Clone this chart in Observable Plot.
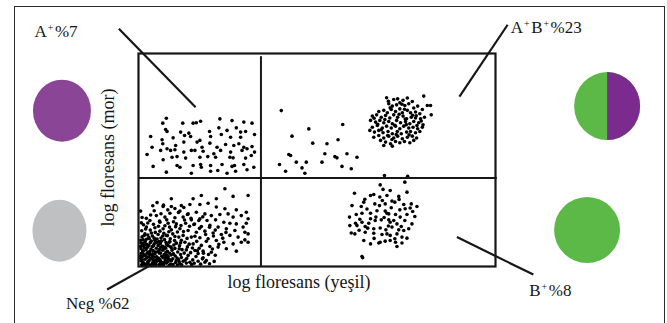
<!DOCTYPE html>
<html>
<head>
<meta charset="utf-8">
<script src="https://cdn.jsdelivr.net/npm/d3@7"></script>
<script src="https://cdn.jsdelivr.net/npm/@observablehq/plot@0.6"></script>
<style>
  html, body { margin: 0; padding: 0; background: #fff; overflow: hidden; }
  #wrap { position: relative; width: 667px; height: 323px; }
  #border { position: absolute; left: 14px; top: 6px; width: 649px; height: 400px;
            border: 1.4px solid #2b2b2b; border-bottom: none; pointer-events: none; }
  svg { display: block; }
</style>
</head>
<body>
<div id="wrap"><div id="border"></div></div>
<script>
// Two-colour flow cytometry: green (x) vs purple (y) log fluorescence, in channel units 0–100.

// Quadrant gates
const gateGreen = 34.3;
const gatePurple = 41.5;

// Events per population, as [green, purple]
const aPos = [
  [7.8,69.6],[6.8,67.3],[12.4,67.3],[15.3,67.3],[16.2,67.5],[17.4,68.2],[22.8,69.3],[26.2,68.5],[29.5,67.8],[31.8,67.3],
  [7.6,64.3],[8.0,63.4],[11.8,63.1],[14.1,62.6],[19.9,63.4],[22.5,65.1],[24.8,63.9],[27.4,65.1],[28.6,63.1],[30.0,63.4],
  [3.4,61.0],[6.6,59.5],[9.7,60.4],[12.9,61.5],[14.6,61.0],[17.2,59.2],[20.2,61.0],[23.2,62.0],[25.8,60.7],[28.6,60.7],[32.5,62.0],
  [3.8,56.0],[6.8,57.6],[8.0,55.3],[10.4,56.8],[12.7,58.4],[16.4,58.4],[17.8,56.0],[20.0,57.9],[22.0,56.0],[24.4,57.3],[26.7,56.8],[28.1,57.6],[29.5,56.0],[31.8,56.3],
  [6.2,54.5],[9.0,54.5],[10.2,54.8],[12.7,53.7],[14.8,54.5],[15.8,54.5],[18.1,54.1],[21.1,52.9],[23.0,54.5],[25.8,53.7],[29.0,54.5],[30.4,55.3],[32.5,53.7],
  [2.4,52.6],[6.9,50.1],[9.4,51.3],[10.8,51.6],[13.2,50.9],[17.2,51.3],[19.4,51.6],[21.6,51.3],[25.6,51.3],[26.5,51.0],[30.0,50.9],[31.6,52.1],
  [4.1,47.0],[10.8,47.4],[11.6,46.6],[15.3,47.4],[17.4,47.9],[17.6,46.6],[20.2,47.4],[23.4,47.9],[26.2,47.0],[26.9,47.4],[29.5,47.9],[32.3,46.6],
  [7.8,44.3],[14.8,43.8],[20.2,44.7],[22.2,45.1],[24.8,43.8],[27.2,44.7],[30.4,45.4]
];

const abPos = [
  [40.0,73.2],[43.0,61.2],[47.7,64.6],[57.2,66.7],[55.9,59.5],[48.8,57.9],[52.8,57.6],[42.1,52.6],[42.6,52.1],[52.2,52.9],
  [55.0,51.6],[55.6,51.0],[58.4,52.9],[61.2,51.3],[44.2,49.0],[47.0,49.0],[39.5,47.9],[45.8,46.3],[41.2,44.7],[46.6,43.8],
  [57.0,47.0],[59.6,45.9],[51.4,49.0],[68.9,42.7],[75.4,42.4],
  [69.5,79.2],[71.5,78.4],[72.6,78.7],[74.1,78.0],[75.3,79.1],[76.7,77.5],[79.9,80.0],[80.9,75.6],[81.8,75.6],[82.0,71.2],
  [70.1,76.4],[71.1,75.3],[72.3,75.9],[73.2,76.9],[74.6,75.6],[75.7,76.4],[77.1,74.4],[78.2,75.3],[79.5,73.7],
  [67.3,72.8],[68.7,73.3],[69.7,72.2],[70.8,73.7],[72.0,72.8],[73.2,74.0],[73.9,72.2],[75.3,73.3],[76.2,72.2],[77.6,72.5],[78.8,71.7],
  [65.5,70.6],[66.7,71.2],[68.0,70.1],[69.2,70.9],[70.4,69.7],[71.5,71.2],[72.6,70.1],[74.1,70.6],[75.1,69.4],[76.4,70.1],[77.6,69.7],[79.0,69.4],[80.1,70.1],
  [65.0,68.6],[66.4,67.8],[67.6,68.6],[68.7,67.5],[70.1,68.1],[71.1,67.0],[72.3,68.6],[73.4,67.5],[74.8,68.1],[76.0,67.0],[77.1,68.1],[78.5,67.5],[79.7,66.5],
  [65.5,65.4],[66.9,66.2],[68.3,65.0],[69.5,65.9],[70.8,65.0],[72.0,65.9],[73.2,64.7],[74.3,65.9],[75.7,65.0],[76.9,65.4],[78.2,64.7],[79.5,65.4],
  [64.8,63.9],[66.1,63.1],[67.3,63.9],[68.5,62.8],[69.9,63.4],[71.1,62.3],[72.5,63.4],[73.6,62.3],[75.1,63.1],[76.2,63.4],[77.6,62.8],[78.8,63.4],
  [65.9,60.7],[67.3,61.5],[68.7,60.3],[70.1,61.2],[71.5,60.3],[72.6,61.2],[73.9,60.0],[75.3,60.7],[76.7,61.2],[77.9,60.3],
  [67.8,59.2],[69.2,58.4],[70.6,57.6],[72.0,58.7],[73.2,58.1],[74.5,58.7],[76.0,58.1],[77.1,59.2],[71.1,56.5],[68.7,56.8],
  [69.0,69.0],[71.8,66.3],[73.0,71.5],[74.7,69.2],[70.5,74.5],[76.8,71.0],[67.0,66.8],[72.2,62.0],[75.8,61.8],[78.0,66.2],
  [69.8,61.5],[73.8,76.2],[66.0,69.6],[70.0,77.6],[74.5,73.8],[77.8,70.8],[71.0,59.6],[68.0,64.2],[79.2,68.3],[75.0,66.6]
];

const bPos = [
  [67.7,38.3],[74.6,39.6],[60.5,34.4],[65.0,33.3],[65.9,33.8],[67.6,32.6],[69.6,33.3],[70.5,35.7],[72.9,32.9],[75.2,34.9],
  [71.0,30.7],[69.1,29.4],[71.8,30.2],[59.8,28.6],[62.4,28.2],[63.1,30.2],[66.2,29.4],[67.5,28.6],[74.3,29.1],[76.4,29.4],
  [78.0,28.2],[76.1,27.5],[74.7,27.1],[61.0,24.4],[62.6,25.0],[65.0,25.0],[66.5,23.2],[69.1,26.0],[70.1,24.7],[72.0,24.4],
  [73.3,23.2],[75.2,24.4],[77.4,23.5],[71.5,21.6],[69.6,25.0],[59.1,23.2],[60.8,20.3],[62.6,20.8],[64.5,20.3],[65.0,22.4],
  [66.3,21.6],[68.0,21.9],[70.1,21.9],[70.5,20.8],[72.4,20.0],[74.6,21.6],[76.6,20.0],[73.6,18.8],[59.2,19.2],[61.2,19.2],
  [63.5,18.8],[65.9,17.7],[67.7,18.1],[69.3,17.2],[71.0,18.5],[72.9,17.2],[74.3,16.9],[75.7,17.7],[59.6,15.7],[60.6,15.3],
  [63.5,16.1],[65.9,15.6],[68.2,15.0],[69.6,15.3],[70.5,14.6],[72.4,15.3],[73.8,13.8],[75.2,13.3],[63.1,12.2],[65.0,10.6],
  [67.3,11.0],[69.1,11.9],[70.5,12.2],[72.0,11.4],[73.8,11.0],[72.4,9.4],[67.7,11.4],[62.6,4.7],[62.8,4.1],
  [64.0,27.0],[68.3,31.0],[70.8,27.6],[66.8,26.2],[62.0,22.2],[68.8,23.0],[73.2,26.6],[64.2,18.0],[70.0,19.0],[66.0,13.2],
  [61.8,17.0],[71.8,13.0],[68.5,36.2],[63.4,31.6],[76.8,25.8],[73.0,31.5]
];

const negative = [
  [24.2,36.5],[30.7,33.3],[26.5,32.9],[17.6,33.3],[15.3,31.8],[21.8,31.8],[9.2,31.8],[6.9,28.2],[9.2,28.2],[12.0,28.6],
  [14.4,29.1],[17.2,29.1],[19.5,29.7],[21.8,27.9],[24.2,27.1],[27.4,26.6],[30.2,25.5],[0.6,26.0],
  [8.8,25.0],[11.6,26.0],[13.9,24.7],[16.2,25.5],[18.6,24.7],[20.4,23.9],[22.8,24.4],[25.1,24.7],[26.5,23.2],[28.8,23.9],[30.7,22.4],
  [5.0,23.9],[7.4,23.2],[10.2,22.9],[12.5,23.2],[14.8,21.9],[17.2,22.4],[19.2,21.6],[21.6,21.9],[23.9,20.8],[25.6,20.3],[27.4,20.0],[30.2,20.3],[29.3,18.5],
  [3.2,21.6],[6.0,20.8],[8.3,20.3],[10.6,20.0],[13.2,20.3],[15.5,19.7],[17.6,18.8],[20.0,19.3],[22.3,18.5],[24.6,17.7],[27.0,16.9],[29.8,16.1],[30.7,15.3],
  [2.2,18.5],[4.6,18.2],[6.9,17.7],[9.2,17.2],[11.6,17.7],[13.9,16.9],[16.2,16.1],[18.6,16.6],[20.9,15.7],[23.2,15.0],[25.6,14.6],[27.9,13.8],[29.8,12.5],[30.7,11.4],
  [1.8,15.3],[3.6,15.7],[5.5,15.0],[7.8,14.6],[10.2,14.1],[12.5,14.6],[14.8,13.8],[17.2,13.5],[19.5,13.0],[21.8,12.2],[23.9,11.4],[26.5,10.6],[28.8,11.4],
  [1.3,12.5],[3.0,13.0],[4.6,12.2],[6.4,11.9],[8.6,11.4],[10.6,11.0],[13.0,11.4],[15.3,10.6],[17.6,9.9],[20.0,9.4],[22.3,9.1],[24.6,8.3],[27.4,7.2],
  [1.1,9.9],[2.4,10.3],[3.9,9.4],[5.5,9.9],[7.4,9.1],[9.2,8.8],[11.4,8.3],[13.4,7.8],[15.8,7.5],[18.1,7.2],[20.4,6.7],
  [1.3,7.2],[2.7,6.7],[4.1,7.5],[5.8,6.3],[7.7,6.7],[9.7,6.0],[11.8,5.6],[13.9,5.2],[16.1,4.7],[18.1,4.1],[19.0,2.8],
  [1.1,4.7],[2.4,4.1],[3.9,4.7],[5.2,3.6],[6.9,4.1],[8.8,3.1],[10.6,2.8],[12.5,2.5],[14.4,2.0],[16.7,2.5],
  [1.3,2.0],[2.7,1.6],[4.3,2.0],[6.0,1.3],[7.8,1.6],[9.7,0.9],[11.6,1.3],[13.4,1.6],
  [0.9,0.8],[2.0,1.1],[3.3,0.7],[4.9,1.0],[5.3,2.6],[7.0,0.8],[8.2,2.2],[9.0,1.2],[10.4,1.9],[12.1,0.8],[13.0,2.9],[14.9,0.9],[15.6,1.5],[17.4,1.1],
  [0.7,2.7],[1.8,3.4],[3.0,2.8],[4.0,3.3],[6.2,2.5],[7.5,3.0],[9.6,3.6],[11.2,3.3],[12.0,4.2],[13.5,3.7],[15.2,3.1],
  [1.5,5.6],[3.4,5.5],[4.6,5.9],[6.5,4.8],[7.2,5.6],[8.3,4.6],[9.1,5.4],[10.3,4.9],[11.0,6.8],[12.8,6.3],[14.6,6.5],[16.7,6.1],
  [0.8,6.2],[2.1,7.9],[3.5,8.2],[4.8,6.8],[5.9,8.0],[6.8,7.6],[8.1,7.1],[9.4,7.6],[10.2,8.5],[12.2,7.9],[13.7,9.2],[15.1,8.7],[17.0,8.6],
  [1.6,8.9],[2.9,9.9],[4.4,10.6],[5.1,11.3],[6.7,9.5],[7.9,10.4],[9.9,10.1],[11.5,9.7],[12.0,12.3],[14.2,10.5],[16.3,11.8],
  [0.7,11.0],[1.9,11.6],[3.6,12.0],[5.2,12.9],[6.3,13.4],[7.3,12.6],[8.9,13.0],[10.1,12.2],[11.3,13.8],[13.6,13.2],[15.8,14.2],
  [1.0,13.9],[2.6,14.8],[3.9,14.3],[4.7,16.0],[6.0,16.6],[7.1,15.6],[8.5,16.3],[9.6,15.3],[10.9,16.2],[12.6,16.4],
  [0.9,16.8],[2.0,17.6],[3.3,17.1],[5.6,18.9],[7.4,19.1],[8.7,18.5],[10.4,18.7],[11.9,19.2],[14.3,18.9],
  [1.4,19.6],[2.6,20.4],[4.2,19.8],[5.9,21.3],[7.9,21.9],[9.8,21.0],[12.9,21.8],
  [0.6,3.9],[2.3,0.6],[3.9,1.7],[5.8,0.7],[6.6,1.8],[1.2,1.5],[2.8,4.6],[4.3,4.4],[5.6,3.9],[7.9,5.4],
  [0.5,9.4],[1.3,10.8],[2.2,12.8],[3.0,6.0],[5.5,7.1],[6.1,10.7],[7.6,8.6],[8.8,11.7],[10.6,10.9],[11.8,11.1],
  [18.6,2.0],[19.9,1.3],[21.2,2.4],[17.9,3.6],[19.6,5.6],[21.5,5.3],[18.2,6.2],[16.5,7.4],[20.7,8.2],[22.5,10.4],
  [19.0,11.8],[18.8,15.0],[23.6,13.3],[21.0,14.3],[17.1,17.9],[15.7,19.9],[19.9,18.4],[21.5,17.1],[24.5,16.0],[14.7,22.6],
  [16.9,21.6],[18.0,23.3],[13.7,24.4],[11.2,25.4],[10.2,27.2],[12.7,27.7],[8.2,26.6],[6.3,24.8],[4.4,26.2],[3.4,24.2],
  [2.2,22.6],[1.0,23.0],[0.8,20.5],[7.0,28.8],[5.2,30.0],[4.0,28.5],
  [1.7,0.7],[4.2,0.6],[6.4,0.9],[8.6,0.6],[10.9,0.7],[2.6,2.3],[4.7,2.9],[7.2,2.0],[9.2,2.7],[11.4,2.2],
  [1.0,3.2],[3.5,3.9],[6.0,3.3],[8.2,3.8],[10.8,4.0],[2.0,5.0],[5.1,4.6],[7.6,4.4],[9.8,5.8],[0.6,5.0],
  [2.4,6.2],[4.0,6.0],[6.2,6.3],[8.7,6.2],[1.2,7.4],[3.2,7.1],[5.0,8.6],[7.0,8.2],[9.0,9.3],[0.7,8.3],
  [2.5,9.0],[4.2,9.8],[6.2,9.0],[8.3,9.8],[1.8,10.2],[3.3,11.2],[5.7,11.7],[7.7,11.3],[2.9,13.6],[4.4,13.3],
  [6.8,14.3],[1.6,14.6],[8.1,14.5],[0.6,12.3]
];

// Quadrant labels and their share of events (%)
const labelText = ["A⁺%7", "A⁺B⁺%23", "Neg %62", "B⁺%8"];
const xTitle = "log floresans (yeşil)";
const yTitle = "log floresans (mor)";

// Colour swatches shown beside each population
const swatchFill = [["#8b4596"], ["#bfc0c2"], ["#5cb947", "#7b2b8e"], ["#5cb947"]];

// ---- layout (channel units) ----
const labelAt   = [[-29.0, 107.7], [104.4, 109.6], [-20.2, -20.2], [109.6, -14.1]];
const leaderFrom = [[-5.5, 111.6], [103.4, 113.5], [-8.8, -10.8], [89.2, 13.8]];
const leaderTo   = [[16.0, 74.8], [89.9, 79.8], [5.2, 2.3], [110.6, -3.8]];
const swatchAt   = [[-21.3, 72.9], [-22.0, 16.6], [131.4, 75.1], [125.8, 16.9]];
const swatchR    = [[29, 31], [27, 31], [33, 34], [33, 33]];
const xTitleAt = [45.1, -10.3];
const yTitleAt = [-6.6, 50.9];

const ink = "#161616";
const serif = "'Liberation Serif', 'DejaVu Serif', serif";

const events = [
  ...negative.map(([g, p]) => ({green: g, purple: p, pop: "Neg"})),
  ...aPos.map(([g, p]) => ({green: g, purple: p, pop: "A+"})),
  ...bPos.map(([g, p]) => ({green: g, purple: p, pop: "B+"})),
  ...abPos.map(([g, p]) => ({green: g, purple: p, pop: "A+B+"}))
];

const leaders = leaderFrom.map((f, i) => ({x1: f[0], y1: f[1], x2: leaderTo[i][0], y2: leaderTo[i][1]}));

function annotate(index, scales) {
  const {x, y} = scales;
  const g = d3.create("svg:g").attr("font-family", serif).attr("fill", ink).attr("text-anchor", "start");

  swatchFill.forEach((fills, i) => {
    const cx = x(swatchAt[i][0]), cy = y(swatchAt[i][1]);
    const [rx, ry] = swatchR[i];
    g.append("ellipse").attr("cx", cx).attr("cy", cy).attr("rx", rx).attr("ry", ry).attr("fill", fills[0]);
    if (fills.length > 1) {
      g.append("path")
        .attr("d", `M${cx},${cy - ry}A${rx},${ry} 0 0 1 ${cx},${cy + ry}Z`)
        .attr("fill", fills[1]);
    }
  });

  labelText.forEach((txt, i) => {
    const t = g.append("text")
      .attr("x", x(labelAt[i][0])).attr("y", y(labelAt[i][1]))
      .attr("font-size", 17);
    let raised = false;
    for (const part of txt.split(/(⁺)/)) {
      if (!part) continue;
      if (part === "⁺") {
        t.append("tspan").attr("dx", 1).attr("dy", -6).attr("font-size", 10).text("+");
        raised = true;
      } else {
        t.append("tspan").attr("dx", raised ? 1.5 : 0).attr("dy", raised ? 6 : 0).text(part);
        raised = false;
      }
    }
  });

  g.append("text")
    .attr("x", x(xTitleAt[0])).attr("y", y(xTitleAt[1]))
    .attr("text-anchor", "middle").attr("font-size", 18)
    .text(xTitle);

  g.append("text")
    .attr("transform", `translate(${x(yTitleAt[0])},${y(yTitleAt[1])}) rotate(-90)`)
    .attr("text-anchor", "middle").attr("font-size", 18)
    .text(yTitle);

  return g.node();
}

const chart = Plot.plot({
  width: 667,
  height: 323,
  marginLeft: 138,
  marginRight: 172,
  marginTop: 53,
  marginBottom: 57,
  x: {domain: [0, 100], axis: null},
  y: {domain: [0, 100], axis: null},
  style: {background: "transparent", overflow: "visible"},
  marks: [
    annotate,
    Plot.link(leaders, {x1: "x1", y1: "y1", x2: "x2", y2: "y2", stroke: ink, strokeWidth: 2.2}),
    Plot.dot(events, {x: "green", y: "purple", r: 1.8, fill: "#000", stroke: null}),
    Plot.ruleX([gateGreen], {y1: 0, y2: 98.5, stroke: ink, strokeWidth: 2}),
    Plot.ruleY([gatePurple], {x1: 0, x2: 100.5, stroke: ink, strokeWidth: 2}),
    Plot.frame({stroke: ink, strokeWidth: 2.2})
  ]
});

document.getElementById("wrap").prepend(chart);
</script>
</body>
</html>
